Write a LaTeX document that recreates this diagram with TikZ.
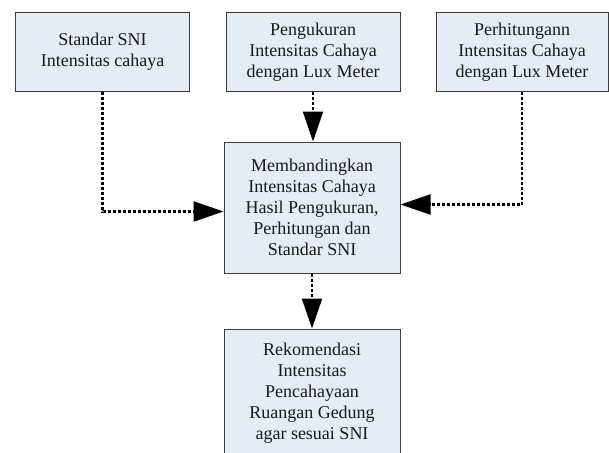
\documentclass[tikz,border=0pt]{standalone}
\usepackage{fontspec}
\setmainfont{Liberation Serif}
\usepackage{tikz}
\usetikzlibrary{arrows.meta, positioning}
\definecolor{boxfill}{RGB}{230,236,246}
\definecolor{boxline}{RGB}{60,60,60}
\tikzset{
    box_top/.style={
        rectangle, draw=boxline, line width=1pt, fill=boxfill,
        minimum width=174pt, minimum height=78pt, inner sep=0pt,
        align=center, font=\fontsize{18}{21}\selectfont, text=black!90
    },
    box_big/.style={
        box_top, minimum width=176pt, minimum height=131pt
    },
    dot_arrow/.style={
        -{Triangle[length=30pt, width=20pt]}, draw=black, line width=2.2pt,
        dash pattern=on 3pt off 2pt
    }
}
\begin{document}
\begin{tikzpicture}[x=1pt, y=-1pt]
    \useasboundingbox (0,0) rectangle (609,452);
    % Top Row
    \node[box_top] (sni) at (102.5, 52) {Standar SNI\\Intensitas cahaya};
    \node[box_top] (ukur) at (313, 52) {Pengukuran\\Intensitas Cahaya\\dengan Lux Meter};
    \node[box_top, minimum width=172pt] (hitung) at (522, 52) {Perhitungann\\Intensitas Cahaya\\dengan Lux Meter};

    % Middle and Bottom
    \node[box_big] (banding) at (312, 207.5) {Membandingkan\\Intensitas Cahaya\\Hasil Pengukuran,\\Perhitungan dan\\Standar SNI};
    \node[box_big, minimum height=128pt] (rekom) at (312, 393) {Rekomendasi\\Intensitas\\Pencahayaan\\Ruangan Gedung\\agar sesuai SNI};

    % Connectors
    \draw[dot_arrow] (sni.south) |- ([yshift=-4pt]banding.west);
    \draw[dot_arrow] (ukur.south) -- (ukur.south |- banding.north);
    \draw[dot_arrow] (hitung.south) |- ([yshift=3pt]banding.east);
    \draw[dot_arrow] (banding.south) -- (rekom.north);
\end{tikzpicture}
\end{document}
